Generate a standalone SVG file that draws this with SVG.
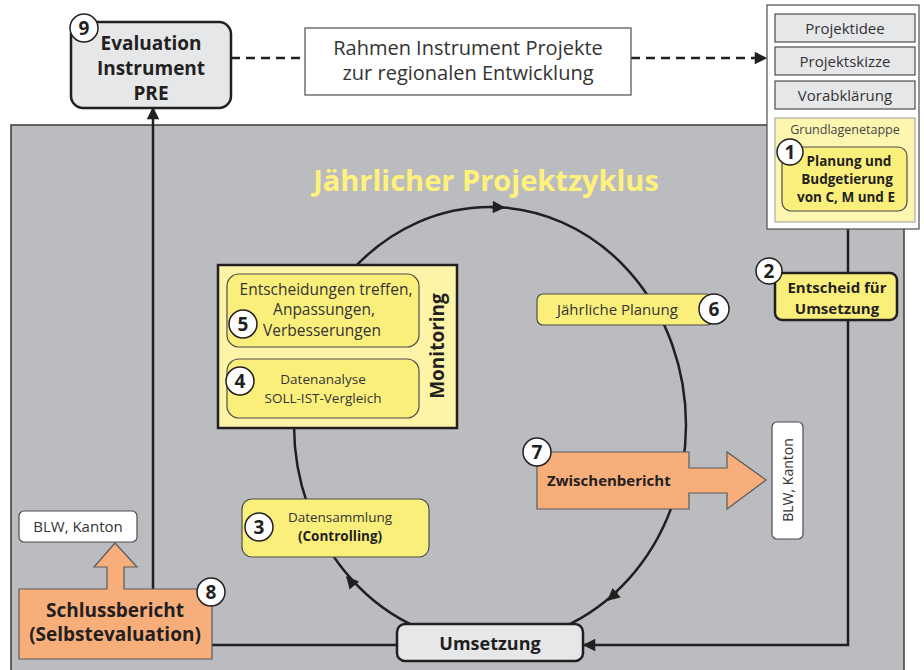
<svg xmlns="http://www.w3.org/2000/svg" width="924" height="670" viewBox="0 0 924 670">
<style>
text{font-family:"Open Sans","Noto Sans","Liberation Sans",sans-serif;fill:#231f20}
.b{font-weight:bold}
.c{text-anchor:middle}
.num{font-family:"Open Sans","Liberation Sans",sans-serif;font-weight:bold;font-size:19px;text-anchor:middle}
.nc{fill:#fff;stroke:#231f20;stroke-width:1.5}
.ln{fill:none;stroke:#231f20;stroke-width:2.5}
.yel{fill:#fbef7c;stroke:#4d4d4d;stroke-width:1.2}
.org{fill:#f8ae7b;stroke:#5a5a5a;stroke-width:1.2}
.gbox{fill:#e6e7e9;stroke:#4d4d4d;stroke-width:1.2}
</style>
<defs>
<marker id="ah" viewBox="0 0 10 10" refX="9" refY="5" markerWidth="5.5" markerHeight="5" orient="auto" markerUnits="strokeWidth">
<path d="M0,0 L10,5 L0,10 z" fill="#231f20"/>
</marker>
</defs>
<rect width="924" height="670" fill="#fff"/>
<rect id="background" x="11" y="125" width="893" height="550" fill="#bbbcc0" stroke="#3a3a3a" stroke-width="1.5"/>
<text class="b c" x="486" y="191" font-size="29" style="fill:#fff27a">Jährlicher Projektzyklus</text>

<g id="connectors">
<ellipse cx="490" cy="425" rx="196" ry="218" fill="none" stroke="#231f20" stroke-width="2.5"/>
<path d="M490,207 L504,207.4" class="ln" marker-end="url(#ah)"/>
<path d="M617.2,592.3 L608,600" class="ln" marker-end="url(#ah)"/>
<path d="M353.5,584.6 L347,577" class="ln" marker-end="url(#ah)"/>
<path d="M153,590 L153,108" class="ln" marker-end="url(#ah)"/>
<path d="M231,58 L305,58" fill="none" stroke="#231f20" stroke-width="2.5" stroke-dasharray="9,6"/>
<path d="M631,58 L766,58" fill="none" stroke="#231f20" stroke-width="2.5" stroke-dasharray="9,6" marker-end="url(#ah)"/>
<path d="M848,228 L848,273" class="ln"/>
<path d="M848,320 L848,645 L584,645" class="ln" marker-end="url(#ah)"/>
<path d="M211,645 L397,645" class="ln"/>
</g>

<g id="n9">
<rect x="71" y="22" width="160" height="86" rx="12" fill="#e6e7e9" stroke="#231f20" stroke-width="2.5"/>
<text class="b c" x="151" y="50" font-size="19">Evaluation</text>
<text class="b c" x="151" y="75" font-size="19">Instrument</text>
<text class="b c" x="151" y="100" font-size="19">PRE</text>
<circle class="nc" cx="84" cy="28" r="14"/>
<text class="num" x="84" y="35">9</text>
</g>

<g id="rahmen">
<rect x="305" y="28" width="326" height="67" fill="#fff" stroke="#4d4d4d" stroke-width="1.2"/>
<text class="c" x="468" y="55" font-size="20" style="fill:#333">Rahmen Instrument Projekte</text>
<text class="c" x="468" y="80" font-size="20" style="fill:#333">zur regionalen Entwicklung</text>
</g>

<g id="phasen">
<rect x="767" y="5" width="152" height="224" fill="#fff" stroke="#4d4d4d" stroke-width="1.2"/>
<rect class="gbox" x="775" y="14" width="140" height="28"/>
<text class="c" x="845" y="34" font-size="15" style="fill:#333">Projektidee</text>
<rect class="gbox" x="775" y="47" width="140" height="28"/>
<text class="c" x="845" y="67" font-size="15" style="fill:#333">Projektskizze</text>
<rect class="gbox" x="775" y="81" width="140" height="28"/>
<text class="c" x="845" y="101" font-size="15" style="fill:#333">Vorabklärung</text>
<rect x="775" y="118" width="140" height="104" fill="#fdf6b0" stroke="#999" stroke-width="1"/>
<text class="c" x="845" y="134" font-size="12.5" style="fill:#444">Grundlagenetappe</text>
</g>

<g id="n1">
<rect class="yel" x="782" y="147" width="125" height="64" rx="9"/>
<text class="b c" x="849" y="166" font-size="13.5">Planung und</text>
<text class="b c" x="847" y="184" font-size="13.5">Budgetierung</text>
<text class="b c" x="846" y="202" font-size="13.5">von C, M und E</text>
<circle class="nc" cx="790" cy="152" r="13"/>
<text class="num" x="790" y="159">1</text>
</g>

<g id="n2">
<rect x="775" y="273" width="122" height="47" rx="7" fill="#fbef7c" stroke="#231f20" stroke-width="2.5"/>
<text class="b c" x="837" y="293" font-size="15">Entscheid für</text>
<text class="b c" x="837" y="314" font-size="15">Umsetzung</text>
<circle class="nc" cx="769" cy="271" r="13"/>
<text class="num" x="769" y="278">2</text>
</g>

<g id="n6">
<rect class="yel" x="537" y="294" width="176" height="31" rx="6"/>
<text x="557" y="315" font-size="15" style="fill:#333">Jährliche Planung</text>
<circle class="nc" cx="714" cy="309" r="15"/>
<text class="num" x="714" y="316">6</text>
</g>

<g id="monitoring">
<rect x="218" y="265" width="239" height="163" fill="#fdf4a8" stroke="#231f20" stroke-width="2.5"/>
<text class="b c" transform="translate(444,346) rotate(-90)" font-size="19">Monitoring</text>
</g>

<g id="n5">
<rect class="yel" x="227" y="274" width="192" height="73" rx="12"/>
<text class="c" x="326" y="295" font-size="15.5" style="fill:#333">Entscheidungen treffen,</text>
<text class="c" x="324" y="315" font-size="15.5" style="fill:#333">Anpassungen,</text>
<text class="c" x="322" y="336" font-size="15.5" style="fill:#333">Verbesserungen</text>
<circle class="nc" cx="243" cy="324" r="14"/>
<text class="num" x="243" y="331">5</text>
</g>

<g id="n4">
<rect class="yel" x="227" y="359" width="192" height="59" rx="12"/>
<text class="c" x="323" y="384" font-size="13.5" style="fill:#333">Datenanalyse</text>
<text class="c" x="323" y="403" font-size="13.5" style="fill:#333">SOLL-IST-Vergleich</text>
<circle class="nc" cx="240" cy="381" r="14"/>
<text class="num" x="240" y="388">4</text>
</g>

<g id="n3">
<rect class="yel" x="242" y="499" width="187" height="58" rx="10"/>
<text class="c" x="340" y="522" font-size="13.5" style="fill:#333">Datensammlung</text>
<text class="b c" x="340" y="541" font-size="13.5">(Controlling)</text>
<circle class="nc" cx="259" cy="527" r="14"/>
<text class="num" x="259" y="534">3</text>
</g>

<g id="n7">
<path class="org" d="M537,452 L689,452 L689,468 L727,468 L727,452 L766,480 L727,509 L727,493 L689,493 L689,509 L537,509 Z"/>
<text class="b" x="547" y="486" font-size="15">Zwischenbericht</text>
<circle class="nc" cx="537" cy="452" r="14"/>
<text class="num" x="537" y="459">7</text>
</g>

<g id="blw-right">
<rect x="772" y="422" width="31" height="117" rx="5" fill="#fff" stroke="#4d4d4d" stroke-width="1.2"/>
<text class="c" transform="translate(793,480) rotate(-90)" font-size="14" style="fill:#333">BLW, Kanton</text>
</g>

<g id="blw-left">
<rect x="19" y="511" width="118" height="31" rx="5" fill="#fff" stroke="#4d4d4d" stroke-width="1.2"/>
<text class="c" x="78" y="532" font-size="15" style="fill:#333">BLW, Kanton</text>
</g>

<g id="n8">
<path class="org" d="M19,589 L107,589 L107,567 L94,567 L115,543 L137,567 L124,567 L124,589 L212,589 L212,659 L19,659 Z"/>
<text class="b c" x="115" y="617" font-size="19">Schlussbericht</text>
<text class="b c" x="115" y="641" font-size="19">(Selbstevaluation)</text>
<circle class="nc" cx="211" cy="592" r="14"/>
<text class="num" x="211" y="599">8</text>
</g>

<g id="umsetzung">
<rect x="397" y="624" width="186" height="37" rx="8" fill="#e6e7e9" stroke="#231f20" stroke-width="2.5"/>
<text class="b c" x="490" y="650" font-size="18">Umsetzung</text>
</g>
</svg>
